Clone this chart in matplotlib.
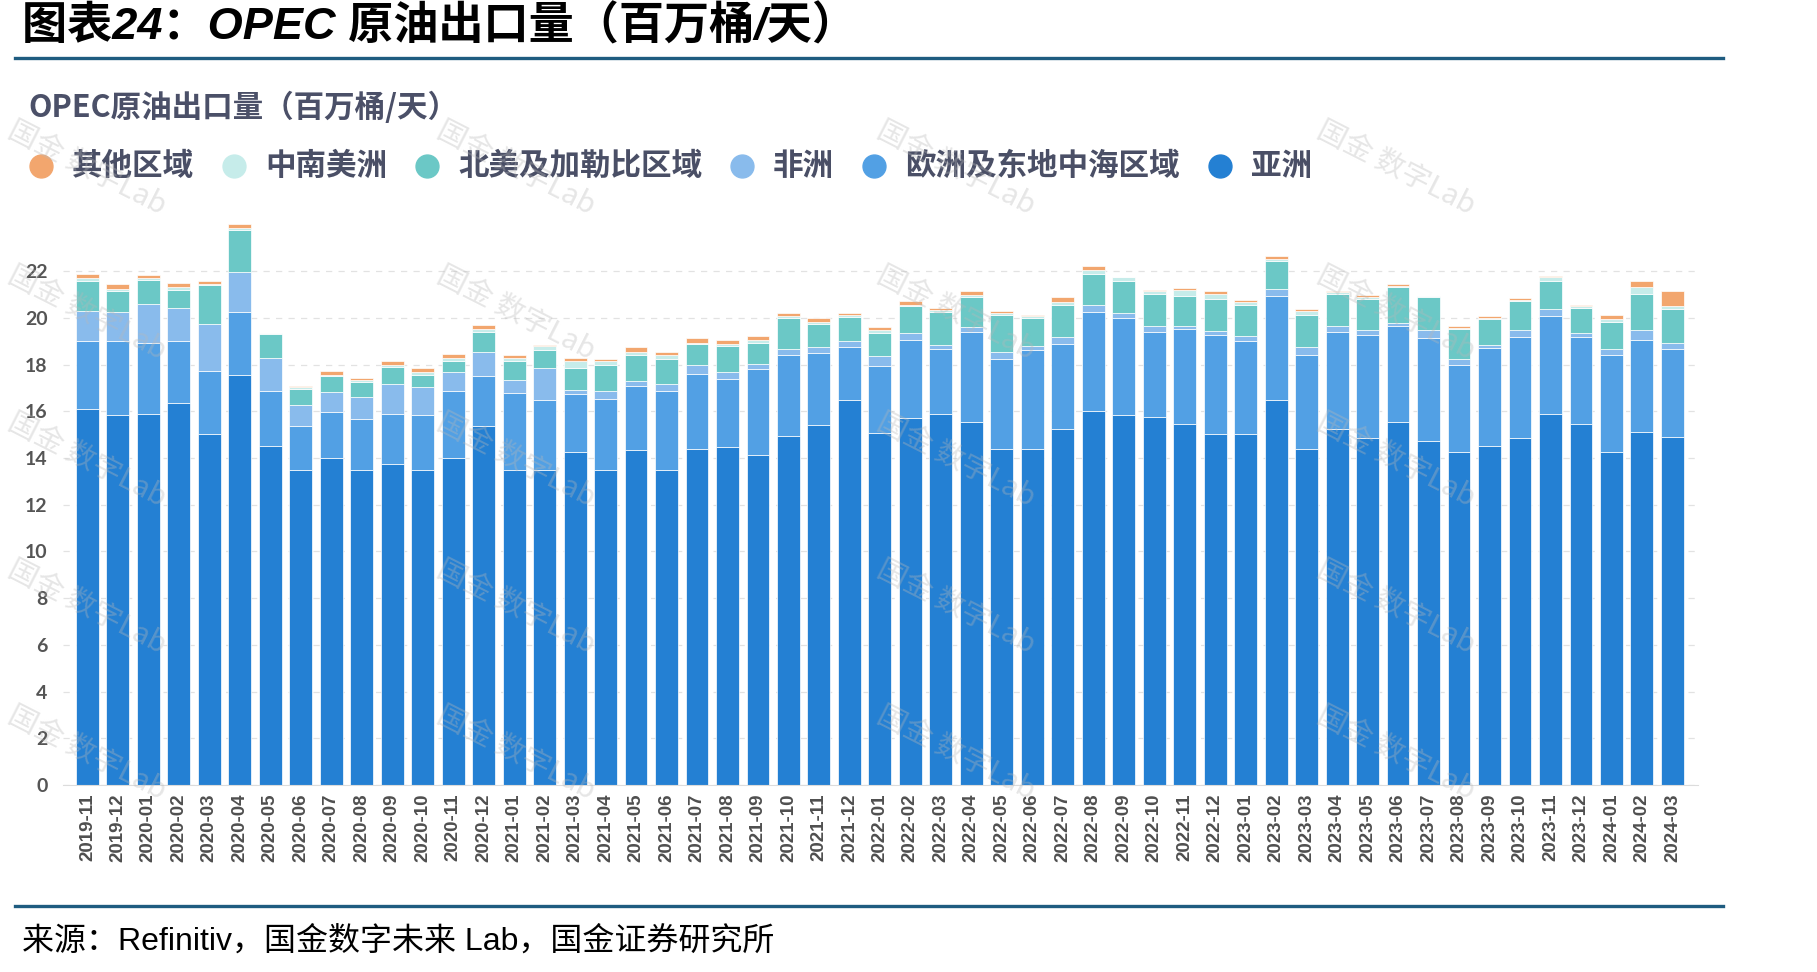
import matplotlib
matplotlib.use('Agg')
import matplotlib.pyplot as plt
from matplotlib.lines import Line2D
import numpy as np
import pandas as pd

plt.rcParams['font.family'] = ['Noto Sans CJK SC', 'DejaVu Sans']

# months 2019-11 .. 2024-03
months = pd.period_range('2019-11', '2024-03', freq='M').strftime('%Y-%m').tolist()

# crude exports by destination, million bbl/day
asia = [16.10, 15.86, 15.89, 16.37, 15.02, 17.54, 14.52, 13.48, 13.99, 13.48,
        13.75, 13.48, 13.99, 15.35, 13.49, 13.49, 14.25, 13.48, 14.35, 13.48,
        14.39, 14.46, 14.13, 14.96, 15.40, 16.50, 15.09, 15.73, 15.89, 15.53,
        14.38, 14.38, 15.22, 16.00, 15.86, 15.76, 15.47, 15.02, 15.02, 16.49,
        14.38, 15.22, 14.85, 15.55, 14.73, 14.25, 14.52, 14.85, 15.89, 15.47,
        14.25, 15.10, 14.89]
europe = [2.89, 3.15, 3.02, 2.63, 2.70, 2.70, 2.35, 1.91, 1.98, 2.17,
          2.14, 2.37, 2.87, 2.18, 3.28, 3.00, 2.51, 3.04, 2.75, 3.38,
          3.21, 2.94, 3.66, 3.46, 3.10, 2.27, 2.83, 3.30, 2.77, 3.87,
          3.86, 4.25, 3.67, 4.24, 4.14, 3.64, 4.03, 4.24, 3.99, 4.44,
          4.04, 4.18, 4.41, 4.11, 4.41, 3.74, 4.17, 4.31, 4.17, 3.70,
          4.14, 3.93, 3.77]
africa = [1.32, 1.23, 1.70, 1.44, 2.02, 1.72, 1.43, 0.88, 0.86, 0.95,
          1.28, 1.20, 0.81, 1.01, 0.58, 1.37, 0.14, 0.33, 0.19, 0.31,
          0.36, 0.26, 0.25, 0.24, 0.23, 0.22, 0.45, 0.31, 0.18, 0.20,
          0.30, 0.16, 0.28, 0.32, 0.19, 0.27, 0.17, 0.17, 0.22, 0.31,
          0.32, 0.27, 0.20, 0.11, 0.32, 0.24, 0.13, 0.30, 0.30, 0.19,
          0.27, 0.44, 0.25]
n_america = [1.25, 0.92, 1.02, 0.76, 1.66, 1.81, 0.99, 0.69, 0.66, 0.64,
             0.74, 0.50, 0.50, 0.87, 0.82, 0.77, 0.94, 1.12, 1.11, 1.06,
             0.91, 1.14, 0.87, 1.34, 1.01, 1.05, 1.00, 1.16, 1.40, 1.27,
             1.57, 1.20, 1.39, 1.32, 1.37, 1.33, 1.26, 1.37, 1.33, 1.20,
             1.39, 1.33, 1.34, 1.54, 1.41, 1.28, 1.11, 1.25, 1.21, 1.04,
             1.14, 1.53, 1.48]
cs_america = [0.14, 0.08, 0.07, 0.10, 0.06, 0.06, 0.05, 0.06, 0.08, 0.08,
              0.07, 0.14, 0.11, 0.11, 0.10, 0.17, 0.29, 0.16, 0.14, 0.19,
              0.07, 0.07, 0.13, 0.06, 0.07, 0.07, 0.09, 0.07, 0.10, 0.10,
              0.08, 0.10, 0.11, 0.18, 0.18, 0.13, 0.24, 0.23, 0.11, 0.06,
              0.16, 0.12, 0.11, 0.06, 0.06, 0.05, 0.06, 0.05, 0.19, 0.09,
              0.13, 0.31, 0.10]
other = [0.18, 0.20, 0.13, 0.21, 0.12, 0.18, 0.02, 0.05, 0.16, 0.10,
         0.18, 0.16, 0.19, 0.16, 0.14, 0.02, 0.17, 0.09, 0.19, 0.12,
         0.19, 0.19, 0.20, 0.13, 0.19, 0.08, 0.15, 0.13, 0.09, 0.16,
         0.12, 0.02, 0.20, 0.15, 0.01, 0.08, 0.09, 0.10, 0.09, 0.14,
         0.10, 0.01, 0.07, 0.09, 0.01, 0.08, 0.08, 0.07, 0.01, 0.08,
         0.18, 0.26, 0.65]

names = ['亚洲', '欧洲及东地中海区域', '非洲', '北美及加勒比区域', '中南美洲', '其他区域']
colors = ['#2480d3', '#52a0e4', '#89bbec', '#6bc8c6', '#c6ecea', '#f2a66e']
values = [asia, europe, africa, n_america, cs_america, other]

W, H = 1817, 972
fig = plt.figure(figsize=(W / 100, H / 100), dpi=100)
ax = fig.add_axes([63 / W, 1 - 785 / H, (1698 - 63) / W, (785 - 212.7) / H])

x = np.arange(len(months))
bottom = np.zeros(len(months))
for name, vals, col in zip(names, values, colors):
    ax.bar(x, vals, 0.75, bottom=bottom, color=col, edgecolor='white',
           linewidth=0.5, label=name, zorder=2)
    bottom += np.array(vals)

ax.set_xlim(-0.8, len(months) - 1 + 0.84)
ax.set_ylim(0, 24.5)
ax.set_yticks(range(0, 23, 2))
ax.set_xticks(x)
ax.set_xticklabels(months, rotation=90, family='Liberation Sans',
                   fontweight='bold', fontsize=13.5, color='#4f4f4f')
for lbl in ax.get_yticklabels():
    lbl.set_family('Lato')
    lbl.set_fontweight('bold')
    lbl.set_fontsize(14)
    lbl.set_color('#555555')
ax.tick_params(axis='y', length=0, pad=11)
ax.tick_params(axis='x', length=0, pad=6)
ax.yaxis.grid(True, linestyle=(0, (5, 5)), color='#e2e2e2', linewidth=0.9)
ax.set_axisbelow(True)
for s in ['top', 'right', 'left']:
    ax.spines[s].set_visible(False)
ax.spines['bottom'].set_color('#dcdcdc')
ax.spines['bottom'].set_linewidth(0.8)

# header / footer rules
fig.add_artist(Line2D([15 / W, 1723 / W], [1 - 58 / H] * 2, color='#1f5c80', linewidth=2.4))
fig.add_artist(Line2D([15 / W, 1723 / W], [1 - 906 / H] * 2, color='#1f5c80', linewidth=2.4))

fig.text(22 / W, 1 - 27 / H, '图表24：OPEC 原油出口量（百万桶/天）', fontsize=32.5,
         fontweight='bold', fontstyle='italic', family=['Liberation Sans', 'Noto Sans CJK SC'],
         va='center', ha='left')
fig.text(28 / W, 1 - 108 / H, 'OPEC原油出口量（百万桶/天）', fontsize=22,
         fontweight='bold', color='#4b5068', va='center', ha='left')
fig.text(22 / W, 1 - 941 / H, '来源：Refinitiv，国金数字未来 Lab，国金证券研究所', fontsize=23,
         family=['Liberation Sans', 'Noto Sans CJK SC'], va='center', ha='left')

# legend drawn by hand, reverse stacking order
renderer = fig.canvas.get_renderer()
px = 41
ly = 1 - 166 / H
for name, col in zip(names[::-1], colors[::-1]):
    fig.add_artist(Line2D([px / W], [ly], marker='o', markersize=16.5, color=col,
                          linestyle='none'))
    t = fig.text((px + 31) / W, ly, name, fontsize=22, fontweight='bold',
                 color='#4a4f66', va='center', ha='left')
    w = t.get_window_extent(renderer).width
    px = px + 31 + w + 40

# watermark
for cx in [87, 516, 956, 1396]:
    for cy in [168, 313, 460, 607, 753]:
        fig.text(cx / W, 1 - cy / H, '国金 数字Lab', rotation=-27, fontsize=21,
                 color='#b8b8b8', alpha=0.35, ha='center', va='center',
                 rotation_mode='anchor', zorder=10)

fig.savefig('out.png', dpi=100)
